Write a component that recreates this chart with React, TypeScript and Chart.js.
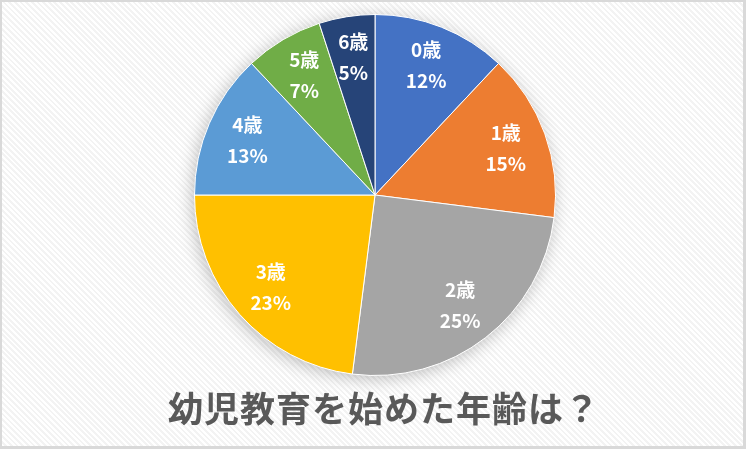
import React, { useEffect, useRef } from "react";
import { Chart, registerables } from "chart.js";

Chart.register(...registerables);

const categories = ["0歳", "1歳", "2歳", "3歳", "4歳", "5歳", "6歳"];
const values = [12, 15, 25, 23, 13, 7, 5];
const percentLabels = ["12%", "15%", "25%", "23%", "13%", "7%", "5%"];
const colors = ["#4472C4", "#ED7D31", "#A5A5A5", "#FFC000", "#5B9BD5", "#70AD47", "#264478"];
const title = "幼児教育を始めた年齢は？";

const shadowPlugin = {
  id: "pieShadow",
  beforeDatasetsDraw(chart: any) {
    const arc = chart.getDatasetMeta(0).data[0];
    if (!arc) return;
    const { x, y, outerRadius } = arc.getProps(["x", "y", "outerRadius"], true);
    const ctx = chart.ctx;
    ctx.save();
    ctx.shadowColor = "rgba(0,0,0,0.28)";
    ctx.shadowBlur = 18;
    ctx.shadowOffsetX = -2;
    ctx.shadowOffsetY = 3;
    ctx.fillStyle = "#888";
    ctx.beginPath();
    ctx.arc(x, y, outerRadius - 1, 0, Math.PI * 2);
    ctx.fill();
    ctx.restore();
  },
};

const labelPlugin = {
  id: "sliceLabels",
  afterDatasetsDraw(chart: any) {
    const ctx = chart.ctx;
    const meta = chart.getDatasetMeta(0);
    ctx.save();
    ctx.fillStyle = "#ffffff";
    ctx.textAlign = "center";
    ctx.textBaseline = "middle";
    ctx.font = "bold 19px 'Noto Sans CJK JP', 'Noto Sans', sans-serif";
    meta.data.forEach((el: any, i: number) => {
      const { x, y, startAngle, endAngle, outerRadius } = el.getProps(
        ["x", "y", "startAngle", "endAngle", "outerRadius"],
        true
      );
      const mid = (startAngle + endAngle) / 2;
      const r = outerRadius * 0.77;
      const cx = x + Math.cos(mid) * r;
      const cy = y + Math.sin(mid) * r;
      ctx.fillText(categories[i], cx, cy - 15.5);
      ctx.fillText(percentLabels[i], cx, cy + 15.5);
    });
    ctx.restore();
  },
};

export default function App() {
  const canvasRef = useRef<HTMLCanvasElement | null>(null);

  useEffect(() => {
    document.body.style.margin = "0";
    if (!canvasRef.current) return;
    const chart = new Chart(canvasRef.current, {
      type: "pie",
      data: {
        labels: categories,
        datasets: [
          {
            data: values,
            backgroundColor: colors,
            borderColor: "#ffffff",
            borderWidth: 1,
          },
        ],
      },
      options: {
        animation: false,
        responsive: false,
        maintainAspectRatio: false,
        rotation: 0,
        layout: { padding: { top: 14, bottom: 73, left: 194, right: 190 } },
        plugins: {
          legend: { display: false },
          tooltip: { enabled: false },
          title: { display: false },
        },
      },
      plugins: [shadowPlugin, labelPlugin],
    });
    return () => chart.destroy();
  }, []);

  return (
    <div
      style={{
        position: "fixed",
        left: 0,
        top: 0,
        width: 746,
        height: 449,
        boxSizing: "border-box",
        border: "3px solid #d9d9d9",
        borderTopWidth: 2,
        borderLeftWidth: 2,
        background:
          "repeating-linear-gradient(45deg, #ffffff 0px, #ffffff 2px, #f3f3f3 2px, #f3f3f3 4px)",
        overflow: "hidden",
      }}
    >
      <canvas
        ref={canvasRef}
        width={746}
        height={449}
        style={{ position: "absolute", left: -2, top: -2, width: 746, height: 449 }}
      />
      <div
        style={{
          position: "absolute",
          left: -2,
          top: 383,
          width: 746,
          textAlign: "center",
          paddingLeft: 22,
          boxSizing: "border-box",
          fontFamily: "'Noto Sans CJK JP', sans-serif",
          fontWeight: 700,
          fontSize: 35,
          lineHeight: "44px",
          color: "#595959",
          letterSpacing: 1,
        }}
      >
        {title}
      </div>
    </div>
  );
}
